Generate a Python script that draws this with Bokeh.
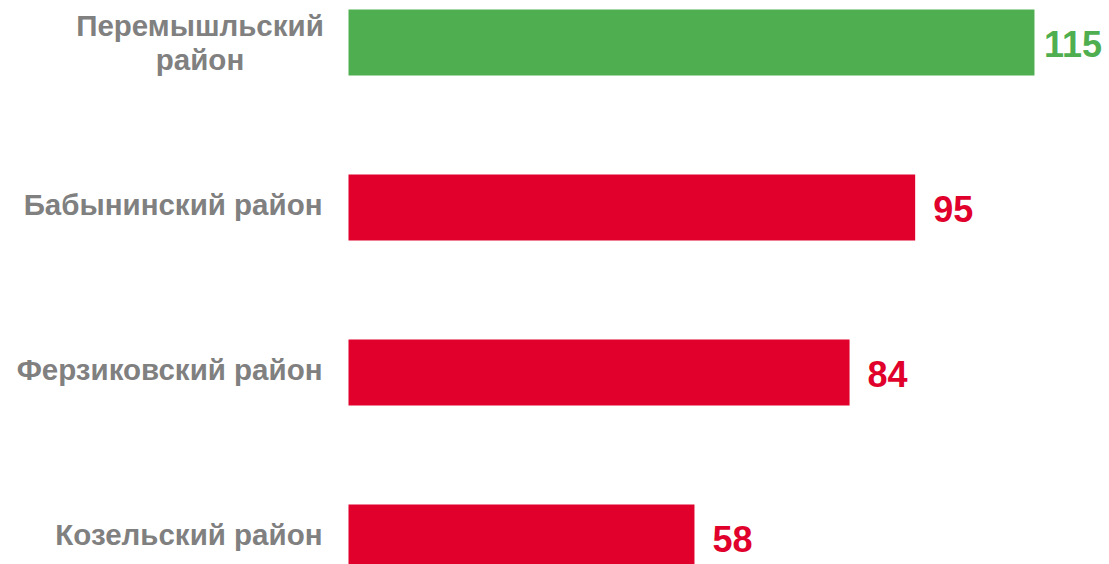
from bokeh.plotting import figure
from bokeh.models import Range1d, ColumnDataSource
from bokeh.core.properties import value
from bokeh.embed import file_html
from bokeh.resources import INLINE

# Data (top to bottom)
categories = ["Перемышльский\nрайон", "Бабынинский район", "Ферзиковский район", "Козельский район"]
values = [115, 95, 84, 58]
highlight = [True, False, False, False]

GREEN = "#4FAF50"
RED = "#E0002B"
GRAY = "#808080"

n = len(categories)
ypos = [n - 1 - i for i in range(n)]
colors = [GREEN if h else RED for h in highlight]

PX_PER_UNIT = 5.965
FIG_W, FIG_H = 1109, 564
BAR_LEFT_PX = 348
ROW_PX = 165
TOP_CENTER_PX = 42

x_start = -BAR_LEFT_PX / PX_PER_UNIT
x_end = (FIG_W - BAR_LEFT_PX) / PX_PER_UNIT
y_top = (n - 1) + TOP_CENTER_PX / ROW_PX
y_bot = y_top - FIG_H / ROW_PX

p = figure(width=FIG_W, height=FIG_H, output_backend="svg", toolbar_location=None,
           x_range=Range1d(x_start, x_end), y_range=Range1d(y_bot, y_top),
           min_border=0, min_border_left=0, min_border_right=0,
           min_border_top=0, min_border_bottom=0)
p.axis.visible = False
p.grid.visible = False
p.outline_line_color = None
p.background_fill_color = "white"
p.border_fill_color = "white"

vmax = max(values)
src = ColumnDataSource(dict(
    y=ypos, v=values, c=colors,
    lbl=[str(v) for v in values],
    voff=[9.5 if v == vmax else 18 for v in values],
))
p.hbar(y="y", left=0, right="v", height=0.4, fill_color="c", line_color=None, source=src)

p.text(x="v", y="y", text="lbl", x_offset="voff", y_offset=1, text_color="c",
       text_font=value("Liberation Sans"), text_font_style="bold",
       text_font_size="36px", text_align="left", text_baseline="middle", source=src)

# category labels
single = [i for i, c in enumerate(categories) if "\n" not in c]
multi = [i for i, c in enumerate(categories) if "\n" in c]
p.text(x=[0] * len(single), y=[ypos[i] for i in single], text=[categories[i] for i in single],
       x_offset=-26, y_offset=-3, text_color=GRAY, text_font=value("Liberation Sans"),
       text_font_style="bold", text_font_size="29.5px", text_align="right", text_baseline="middle")
p.text(x=[0] * len(multi), y=[ypos[i] for i in multi], text=[categories[i] for i in multi],
       x_offset=-148.5, text_color=GRAY, text_font=value("Liberation Sans"), text_font_style="bold",
       text_font_size="29.5px", text_align="center", text_baseline="middle", text_line_height=1.06)

open("out.html", "w").write(file_html(p, INLINE))
